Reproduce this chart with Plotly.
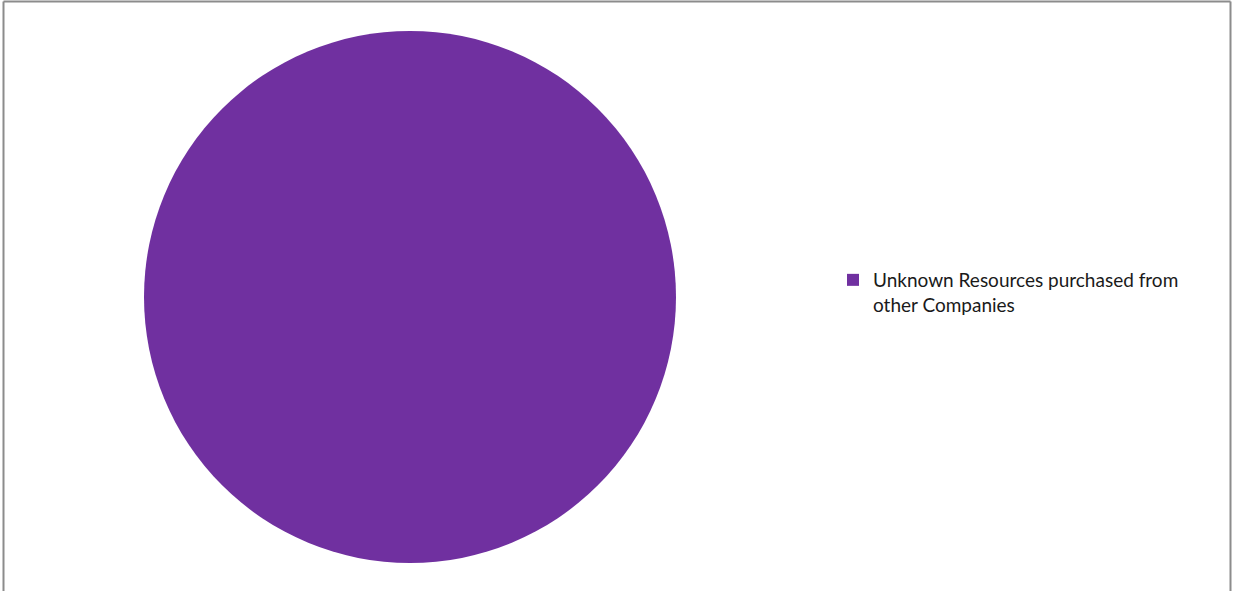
import plotly.graph_objects as go

W, H = 1233, 591
labels = ["Unknown Resources purchased from<br>other Companies"]
values = [100]
colors = ["#7030A0"]

fig = go.Figure(go.Pie(
    labels=labels, values=values,
    marker=dict(colors=colors, line=dict(width=0)),
    textinfo="none", sort=False, direction="clockwise",
    domain=dict(x=[144 / W, 676 / W], y=[1 - 563 / H, 1 - 31 / H]),
))

def px_x(v):
    return v / W

def px_y(v):
    return 1 - v / H

border = dict(color="#8c8c8c", width=2)
fig.add_shape(type="line", xref="paper", yref="paper", x0=px_x(3.5), x1=px_x(3.5), y0=0, y1=px_y(1.5), line=border)
fig.add_shape(type="line", xref="paper", yref="paper", x0=px_x(3.5), x1=px_x(1230.5), y0=px_y(1.5), y1=px_y(1.5), line=border)
fig.add_shape(type="line", xref="paper", yref="paper", x0=px_x(1230.5), x1=px_x(1230.5), y0=0, y1=px_y(1.5), line=border)

fig.update_layout(
    width=W, height=H,
    margin=dict(l=0, r=0, t=0, b=0),
    paper_bgcolor="white", plot_bgcolor="white",
    showlegend=True,
    legend=dict(x=px_x(833), y=px_y(261), xanchor="left", yanchor="top",
                valign="top",
                font=dict(family="Lato", size=19, color="#1a1a1a"),
                bgcolor="rgba(0,0,0,0)", itemwidth=30, tracegroupgap=0),
)
fig.write_html("out.html", config={"displayModeBar": False},
               post_script="document.body.style.margin='0';document.body.style.overflow='hidden';")
